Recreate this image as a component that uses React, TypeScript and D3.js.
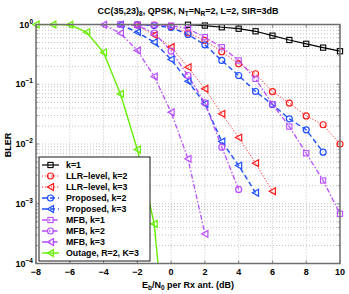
import * as d3 from "d3";

// snr axes and BLER values
const snrK1 = [1, 2, 3, 4, 5, 6, 7, 8, 9, 10];
const blerK1 = [0.99, 0.96, 0.9, 0.85, 0.77, 0.65, 0.55, 0.475, 0.41, 0.357];

const snrLlr2 = [-2, -1, 0, 1, 2, 3, 4, 5, 6, 7, 8, 9, 10];
const blerLlr2 = [0.995, 0.98, 0.92, 0.72, 0.54, 0.35, 0.22, 0.15, 0.075, 0.0485, 0.0295, 0.021, 0.01];

const snrLlr3 = [-2, -1, 0, 1, 2, 3, 4, 5, 6];
const blerLlr3 = [0.95, 0.667, 0.42, 0.193, 0.084, 0.032, 0.0128, 0.00477, 0.00162];

const snrProp2 = [-2, -1, 0, 1, 2, 3, 4, 5, 6, 7, 8, 9];
const blerProp2 = [0.99, 0.96, 0.89, 0.68, 0.457, 0.25, 0.14, 0.0756, 0.0458, 0.0264, 0.0173, 0.0073];

const snrProp3 = [-3, -2, -1, 0, 1, 2, 3, 4, 5];
const blerProp3 = [0.99, 0.743, 0.505, 0.26, 0.112, 0.047, 0.011, 0.00436, 0.00153];

const snrMfb1 = [-3, -2, -1, 0, 1, 2, 3, 4, 5, 6, 7, 8, 9, 10];
const blerMfb1 = [1, 0.995, 0.98, 0.96, 0.85, 0.613, 0.417, 0.25, 0.123, 0.0464, 0.0196, 0.007, 0.00245, 0.00068];

const snrMfb2 = [-3, -2, -1, 0, 1, 2, 3, 4];
const blerMfb2 = [1, 0.97, 0.72, 0.36, 0.14, 0.049, 0.00885, 0.00174];

const snrMfb3 = [-4, -3, -2, -1, 0, 1, 2];
const blerMfb3 = [0.99, 0.715, 0.367, 0.135, 0.034, 0.00565, 0.000314];

const snrOut = [-8, -7, -6, -5, -4, -3, -2, -1, 0];
const blerOut = [1, 1, 0.99, 0.743, 0.34, 0.069, 0.0081, 0.00046, 5e-7];

const xTicks = [-8, -6, -4, -2, 0, 2, 4, 6, 8, 10];
const yExps = [0, -1, -2, -3, -4];

const RED = "#ff1a1a";
const BLUE = "#1f4fff";
const PURPLE = "#b84dff";
const GREEN = "#66ee00";

const series = [
  { name: "k=1", x: snrK1, y: blerK1, color: "#000", dash: "", mark: "square", lw: 1.2 },
  { name: "LLR\u2013level, k=2", x: snrLlr2, y: blerLlr2, color: RED, dash: "1.2,1.8", mark: "circle", lw: 0.9 },
  { name: "LLR\u2013level, k=3", x: snrLlr3, y: blerLlr3, color: RED, dash: "1.2,1.8", mark: "tri", lw: 0.9 },
  { name: "Proposed, k=2", x: snrProp2, y: blerProp2, color: BLUE, dash: "5,3", mark: "circle", lw: 1.4 },
  { name: "Proposed, k=3", x: snrProp3, y: blerProp3, color: BLUE, dash: "5,3", mark: "tri", lw: 1.4 },
  { name: "MFB, k=1", x: snrMfb1, y: blerMfb1, color: PURPLE, dash: "5,2,1.5,2", mark: "square", lw: 1.3 },
  { name: "MFB, k=2", x: snrMfb2, y: blerMfb2, color: PURPLE, dash: "5,2,1.5,2", mark: "circle", lw: 1.3 },
  { name: "MFB, k=3", x: snrMfb3, y: blerMfb3, color: PURPLE, dash: "5,2,1.5,2", mark: "tri", lw: 1.3 },
  { name: "Outage, R=2, K=3", x: snrOut, y: blerOut, color: GREEN, dash: "", mark: "tri", lw: 1.4 },
];

const W = 349, H = 294;
const left = 36, right = 340, top = 24.5, bottom = 263.5;

const x = d3.scaleLinear().domain([-8, 10]).range([left, right]);
const y = d3.scaleLog().domain([1e-4, 1]).range([bottom, top]);

function Marker({ kind, cx, cy, color }: { kind: string; cx: number; cy: number; color: string }) {
  if (kind === "square")
    return <rect x={cx - 2.6} y={cy - 2.6} width={5.2} height={5.2} fill="none" stroke={color} strokeWidth={1.1} />;
  if (kind === "circle")
    return <circle cx={cx} cy={cy} r={3} fill="none" stroke={color} strokeWidth={1.2} />;
  return (
    <path
      d={`M${cx - 3.2},${cy} L${cx + 3},${cy - 3.4} L${cx + 3},${cy + 3.4} Z`}
      fill="none"
      stroke={color}
      strokeWidth={1.2}
    />
  );
}

export default function App() {
  const minor: number[] = [];
  for (let e = -4; e < 0; e++) for (let m = 2; m <= 9; m++) minor.push(m * Math.pow(10, e));

  const line = d3
    .line<[number, number]>()
    .x((d) => x(d[0]))
    .y((d) => y(d[1]));

  const font = "'Liberation Sans', Arial, sans-serif";
  const legX = 39, legY = 157, legW = 111, rowH = 11;

  return (
    <svg width={W} height={H} style={{ position: "absolute", left: 0, top: 0, background: "#fff" }} fontFamily={font}>
      <defs>
        <clipPath id="plot">
          <rect x={left} y={top} width={right - left} height={bottom - top} />
        </clipPath>
      </defs>
      <rect x={0} y={0} width={W} height={H} fill="#fff" />

      {/* grid */}
      <g stroke="#9a9a9a" strokeWidth={0.6} strokeDasharray="1,2">
        {xTicks.slice(1, -1).map((t) => (
          <line key={"gx" + t} x1={x(t)} x2={x(t)} y1={top} y2={bottom} />
        ))}
        {yExps.slice(1, -1).map((e) => (
          <line key={"gy" + e} x1={left} x2={right} y1={y(Math.pow(10, e))} y2={y(Math.pow(10, e))} />
        ))}
        {minor.map((v, i) => (
          <line key={"gm" + i} x1={left} x2={right} y1={y(v)} y2={y(v)} />
        ))}
      </g>

      {/* ticks */}
      <g stroke="#555" strokeWidth={0.7}>
        {xTicks.map((t) => (
          <g key={"tx" + t}>
            <line x1={x(t)} x2={x(t)} y1={bottom} y2={bottom - 3} />
            <line x1={x(t)} x2={x(t)} y1={top} y2={top + 3} />
          </g>
        ))}
        {yExps.map((e) => (
          <g key={"ty" + e}>
            <line x1={left} x2={left + 3} y1={y(Math.pow(10, e))} y2={y(Math.pow(10, e))} />
            <line x1={right} x2={right - 3} y1={y(Math.pow(10, e))} y2={y(Math.pow(10, e))} />
          </g>
        ))}
        {minor.map((v, i) => (
          <g key={"tm" + i}>
            <line x1={left} x2={left + 1.8} y1={y(v)} y2={y(v)} />
            <line x1={right} x2={right - 1.8} y1={y(v)} y2={y(v)} />
          </g>
        ))}
      </g>

      {/* curves */}
      <g clipPath="url(#plot)">
        {series.map((s) => (
          <path
            key={s.name}
            d={line(s.x.map((v, i) => [v, s.y[i]] as [number, number])) || ""}
            fill="none"
            stroke={s.color}
            strokeWidth={s.lw}
            strokeDasharray={s.dash || undefined}
          />
        ))}
      </g>
      {series.map((s) =>
        s.x.map((v, i) =>
          s.y[i] >= 1e-4 ? (
            <Marker key={s.name + i} kind={s.mark} cx={x(v)} cy={y(s.y[i])} color={s.color} />
          ) : null
        )
      )}

      {/* box */}
      <rect x={left} y={top} width={right - left} height={bottom - top} fill="none" stroke="#6e6e6e" strokeWidth={1.5} />

      {/* tick labels */}
      <g fontSize={9} fontWeight="bold" fill="#000">
        {xTicks.map((t) => (
          <text key={"lx" + t} x={x(t)} y={275} textAnchor="middle">
            {t < 0 ? "\u2212" + Math.abs(t) : t}
          </text>
        ))}
        {yExps.map((e) => (
          <text key={"ly" + e} x={33} y={y(Math.pow(10, e)) + 3} textAnchor="end">
            10
            <tspan fontSize={6.5} dy={-4}>
              {e === 0 ? "0" : "\u2212" + Math.abs(e)}
            </tspan>
          </text>
        ))}
      </g>

      {/* axis labels and title */}
      <text x={188} y={288} textAnchor="middle" fontSize={9} fontWeight="bold">
        E<tspan fontSize={6.5} dy={2}>b</tspan>
        <tspan dy={-2}>/N</tspan>
        <tspan fontSize={6.5} dy={2}>0</tspan>
        <tspan dy={-2}> per Rx ant. (dB)</tspan>
      </text>
      <text transform="translate(11,145) rotate(-90)" textAnchor="middle" fontSize={9} fontWeight="bold">
        BLER
      </text>
      <text x={188} y={14} textAnchor="middle" fontSize={9} fontWeight="bold">
        CC(35,23)<tspan fontSize={6.5} dy={2}>8</tspan>
        <tspan dy={-2}>, QPSK, N</tspan>
        <tspan fontSize={6.5} dy={2}>T</tspan>
        <tspan dy={-2}>=N</tspan>
        <tspan fontSize={6.5} dy={2}>R</tspan>
        <tspan dy={-2}>=2, L=2, SIR=3dB</tspan>
      </text>

      {/* legend */}
      <rect x={legX} y={legY} width={legW} height={rowH * series.length + 5} fill="#fff" stroke="#000" strokeWidth={0.9} />
      {series.map((s, i) => {
        const cy = legY + 8 + i * rowH;
        return (
          <g key={"lg" + s.name}>
            <line x1={legX + 3} x2={legX + 20} y1={cy} y2={cy} stroke={s.color} strokeWidth={s.lw} strokeDasharray={s.dash || undefined} />
            <Marker kind={s.mark} cx={legX + 11.5} cy={cy} color={s.color} />
            <text x={legX + 27} y={cy + 3.2} fontSize={8.8} fontWeight="bold" fill="#000">
              {s.name}
            </text>
          </g>
        );
      })}
    </svg>
  );
}
